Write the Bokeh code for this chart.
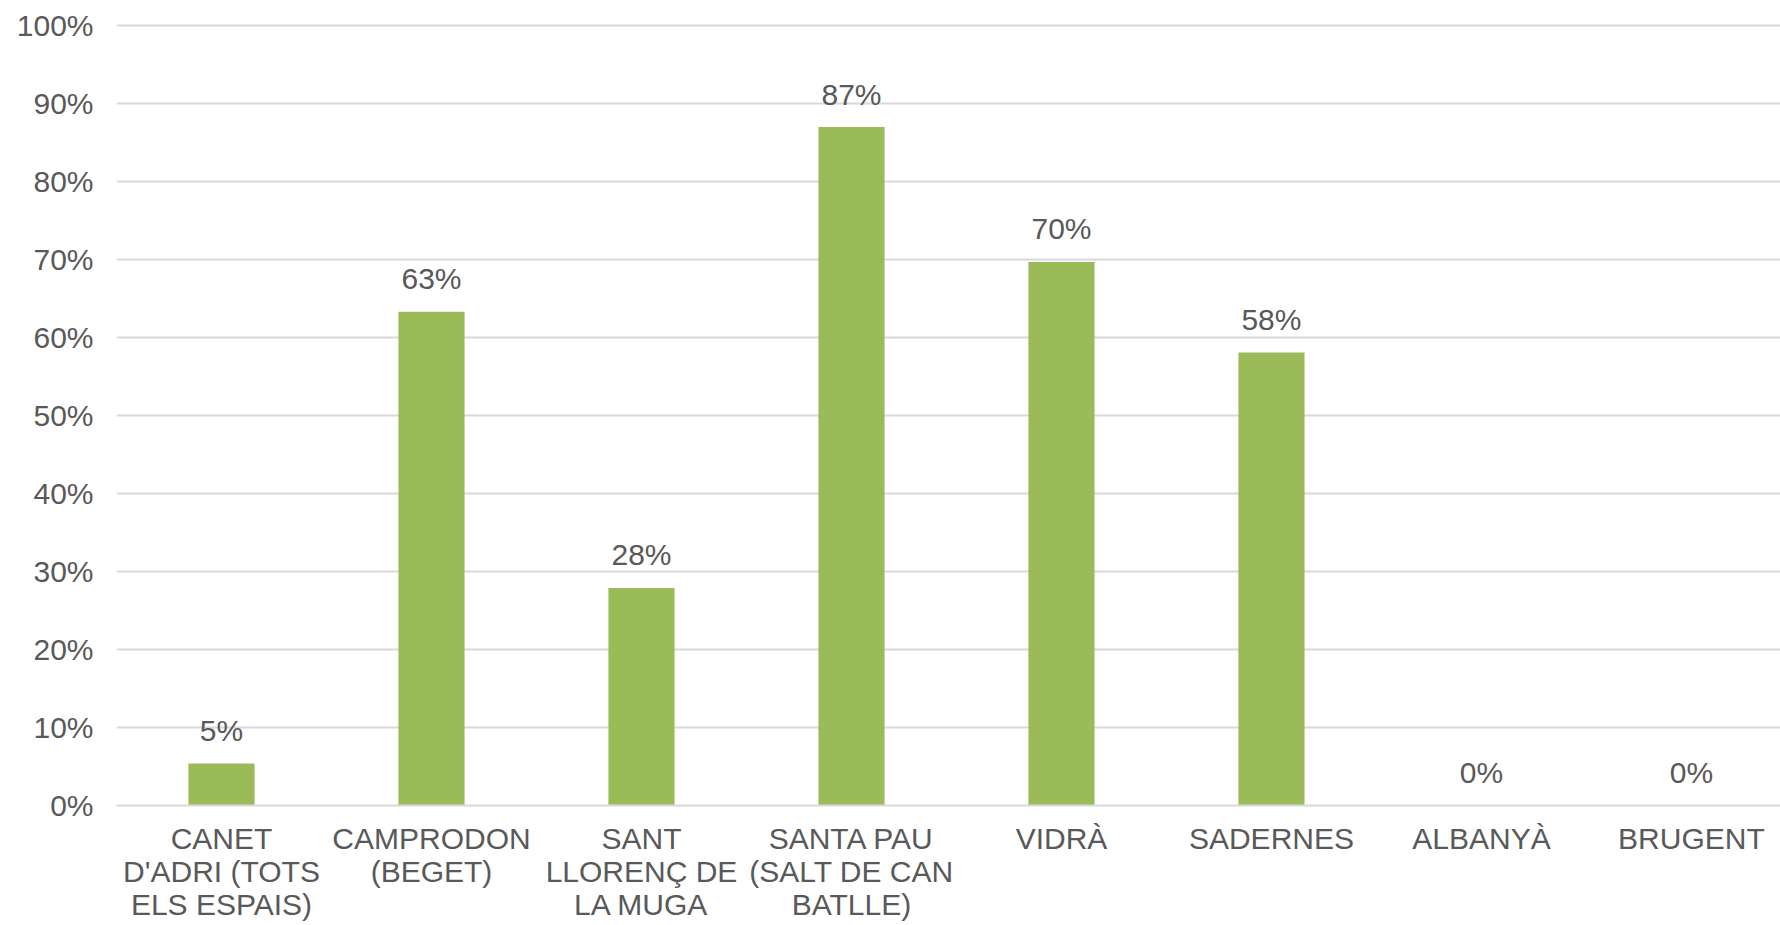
from bokeh.plotting import figure
from bokeh.models import ColumnDataSource, FixedTicker, NumeralTickFormatter, LabelSet, Range1d
from bokeh.core.properties import value
from bokeh.embed import file_html
from bokeh.resources import INLINE

categories = ["CANET\nD'ADRI (TOTS\nELS ESPAIS)", "CAMPRODON\n(BEGET)", "SANT\nLLORENÇ DE\nLA MUGA",
              "SANTA PAU\n(SALT DE CAN\nBATLLE)", "VIDRÀ", "SADERNES", "ALBANYÀ", "BRUGENT"]
values = [0.054, 0.633, 0.279, 0.87, 0.697, 0.581, 0.0, 0.0]
value_labels = ["5%", "63%", "28%", "87%", "70%", "58%", "0%", "0%"]
y_ticks = [0.0, 0.1, 0.2, 0.3, 0.4, 0.5, 0.6, 0.7, 0.8, 0.9, 1.0]

xs = [i + 0.5 for i in range(len(categories))]
src = ColumnDataSource(dict(x=xs, top=values, lab=value_labels))

FONT = "Liberation Sans"
TXT = "#595959"
FS = "30px"

p = figure(width=1780, height=925, output_backend="svg", toolbar_location=None,
           x_range=Range1d(0, 7.924), y_range=Range1d(0, 1.004),
           min_border_left=116, min_border_top=22, min_border_bottom=120, min_border_right=0)
p.outline_line_color = None
p.background_fill_color = "white"
p.border_fill_color = "white"

p.vbar(x="x", top="top", width=0.315, bottom=0, source=src, fill_color="#9BBB59", line_color=None)

labels = LabelSet(x="x", y="top", text="lab", source=src, y_offset=33, text_align="center",
                  text_baseline="middle", text_font=value(FONT), text_font_size=value(FS),
                  text_color=TXT)
p.add_layout(labels)

# y axis
p.yaxis.ticker = FixedTicker(ticks=y_ticks)
p.yaxis.formatter = NumeralTickFormatter(format="0%")
p.yaxis.axis_line_color = None
p.yaxis.major_tick_line_color = None
p.yaxis.minor_tick_line_color = None
p.yaxis.major_tick_out = 0
p.yaxis.minor_tick_out = 0
p.yaxis.major_label_standoff = 23
p.yaxis.major_label_text_font = FONT
p.yaxis.major_label_text_font_size = FS
p.yaxis.major_label_text_color = TXT

# x axis
p.xaxis.ticker = FixedTicker(ticks=xs)
p.xaxis.major_label_overrides = {x: c for x, c in zip(xs, categories)}
p.xaxis.axis_line_color = "#D9D9D9"
p.xaxis.axis_line_width = 2
p.xaxis.major_tick_line_color = None
p.xaxis.minor_tick_line_color = None
p.xaxis.major_tick_out = 0
p.xaxis.minor_tick_out = 0
p.xaxis.major_label_standoff = 16
p.xaxis.major_label_text_font = FONT
p.xaxis.major_label_text_font_size = FS
p.xaxis.major_label_text_color = TXT
p.xaxis.major_label_text_line_height = 1.0

p.xgrid.grid_line_color = None
p.ygrid.grid_line_color = "#D9D9D9"
p.ygrid.grid_line_width = 2

open("out.html", "w").write(file_html(p, INLINE))
